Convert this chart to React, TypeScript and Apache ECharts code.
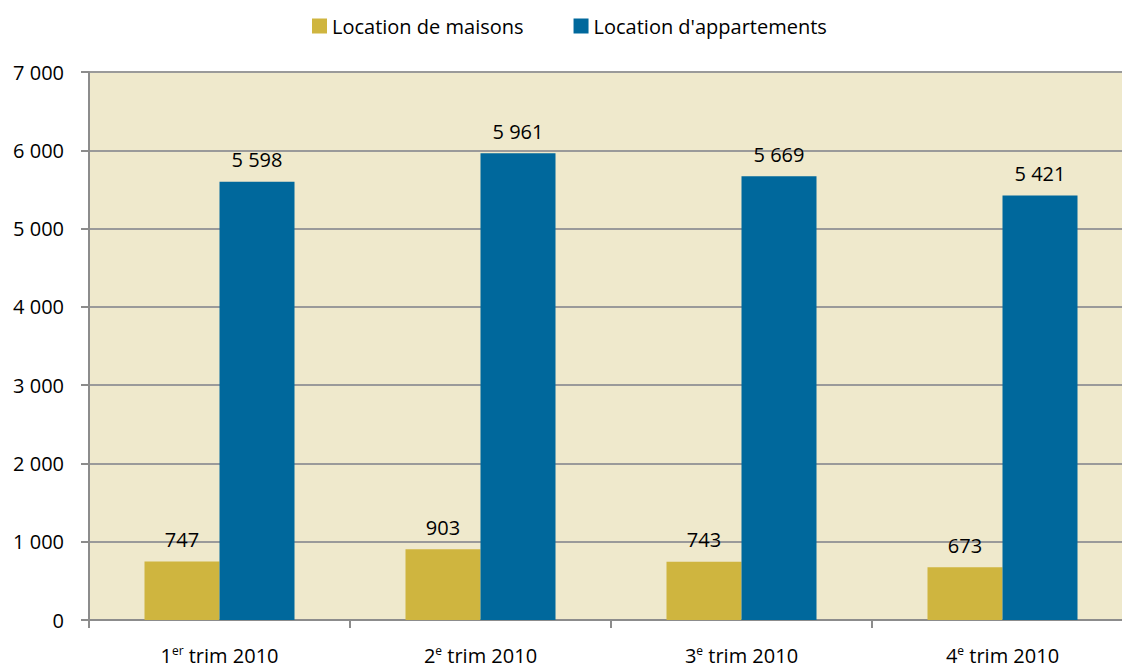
import React, { useEffect, useRef } from "react";
import * as echarts from "echarts";

const categories = ["1|er", "2|e", "3|e", "4|e"];
const maisons = [747, 903, 743, 673];
const appartements = [5598, 5961, 5669, 5421];
const seriesNames = ["Location de maisons", "Location d'appartements"];

const fmt = (v: number) => {
  const s = String(Math.round(v));
  return s.replace(/\B(?=(\d{3})+(?!\d))/g, " ");
};

const FONT = "'Open Sans', 'Noto Sans', sans-serif";
const FS = 20;

export default function App() {
  const ref = useRef<HTMLDivElement>(null);
  useEffect(() => {
    const chart = echarts.init(ref.current!, null, { renderer: "svg" });
    const labelCfg = {
      show: true,
      position: "top" as const,
      distance: 12,
      color: "#000",
      fontSize: FS,
      fontFamily: FONT,
      formatter: (p: any) => fmt(p.value),
    };
    chart.setOption({
      animation: false,
      legend: {
        top: 11,
        left: 307,
        itemWidth: 15,
        itemHeight: 15,
        itemGap: 50,
        icon: "rect",
        textStyle: { fontSize: FS, fontFamily: FONT, color: "#000" },
        data: seriesNames,
      },
      grid: {
        left: 89,
        width: 1044,
        top: 72,
        bottom: 49,
        show: true,
        backgroundColor: "#EFE9CC",
        borderWidth: 0,
        outerBoundsMode: "none",
        containLabel: false,
      },
      xAxis: {
        type: "category",
        data: categories,
        axisLine: { lineStyle: { color: "#8C8C8C", width: 2 } },
        axisTick: { show: true, length: 8, lineStyle: { color: "#8C8C8C", width: 2 } },
        axisLabel: {
          margin: 24,
          fontSize: FS,
          fontFamily: FONT,
          color: "#000",
          formatter: (v: string) => {
            const [n, sup] = v.split("|");
            return `${n}{sup|${sup}} trim 2010`;
          },
          rich: {
            sup: { fontSize: 12, verticalAlign: "top", padding: [0, 0, 10, 0], fontFamily: FONT, color: "#000" },
          },
        },
      },
      yAxis: {
        type: "value",
        min: 0,
        max: 7000,
        interval: 1000,
        axisLine: { show: true, lineStyle: { color: "#8C8C8C", width: 2 } },
        axisTick: { show: true, length: 8, lineStyle: { color: "#8C8C8C", width: 2 } },
        splitLine: { lineStyle: { color: "#9A9A9A", width: 2 } },
        axisLabel: {
          margin: 25,
          fontSize: FS,
          fontFamily: FONT,
          color: "#000",
          formatter: (v: number) => fmt(v),
        },
      },
      series: [
        {
          name: seriesNames[0],
          type: "bar",
          data: maisons,
          barWidth: 75,
          barGap: "0%",
          itemStyle: { color: "#CFB53F" },
          label: labelCfg,
        },
        {
          name: seriesNames[1],
          type: "bar",
          data: appartements,
          barWidth: 75,
          barGap: "0%",
          itemStyle: { color: "#00689C" },
          label: labelCfg,
        },
      ],
    });
    return () => chart.dispose();
  }, []);
  return (
    <div
      ref={ref}
      style={{ position: "fixed", left: 0, top: 0, width: 1122, height: 669, background: "#fff" }}
    />
  );
}
